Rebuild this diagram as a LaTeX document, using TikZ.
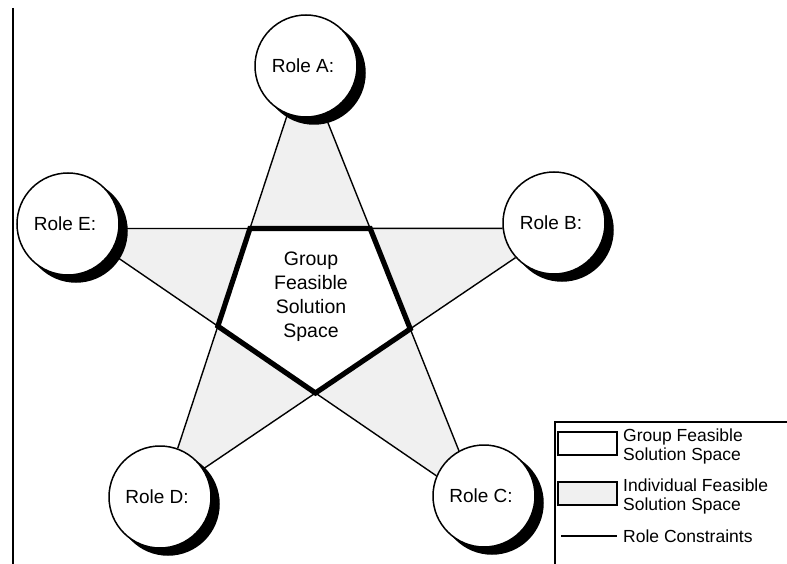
\documentclass[tikz,border=0pt]{standalone}
\usepackage{fontspec}
\setmainfont{Liberation Sans}
\usetikzlibrary{shadows}
\pgfdeclarelayer{background}
\pgfsetlayers{background,main}
\begin{document}
\begin{tikzpicture}[x=1pt,y=-1pt,
  role/.style={circle, draw=black, line width=1.5pt, fill=white,
    minimum size=102pt, inner sep=0pt, font=\fontsize{19}{21}\selectfont,
    general shadow={fill=black, draw=black, shadow xshift=8pt, shadow yshift=-7pt}},
  constraint/.style={line width=1.4pt},
  indiv/.style={fill=black!6},
  groupline/.style={line width=5.2pt, line join=miter},
  legtext/.style={anchor=west, align=left, font=\fontsize{17.5}{19}\selectfont, inner sep=0pt},
  legbox/.style={draw=black, line width=1.1pt},
]
\useasboundingbox (0,0) rectangle (787,564);
% left rule
\draw[line width=1.4pt] (13,8) -- (13,564);

% roles
\node[role] (A) at (306,66) {Role A:\hspace*{6pt}};
\node[role] (B) at (554,223) {Role B:\hspace*{6pt}};
\node[role] (C) at (484,496) {Role C:\hspace*{6pt}};
\node[role] (D) at (160,497) {Role D:\hspace*{6pt}};
\node[role] (E) at (68,224) {Role E:\hspace*{6pt}};

% line end points on the circles
\coordinate (ad1) at (A.-111);
\coordinate (ad2) at (D.70);
\coordinate (ac1) at (A.-69);
\coordinate (ac2) at (C.119.5);
\coordinate (eb1) at (E.-5.6);
\coordinate (eb2) at (B.186.8);
\coordinate (ec1) at (E.-34);
\coordinate (ec2) at (C.157.6);
\coordinate (bd1) at (B.-138);
\coordinate (bd2) at (D.33);

% pentagon vertices
\coordinate (TL) at (intersection of ad1--ad2 and eb1--eb2);
\coordinate (TR) at (intersection of ac1--ac2 and eb1--eb2);
\coordinate (R) at (intersection of ac1--ac2 and bd1--bd2);
\coordinate (Bt) at (intersection of ec1--ec2 and bd1--bd2);
\coordinate (L) at (intersection of ad1--ad2 and ec1--ec2);

\begin{pgfonlayer}{background}
  \fill[indiv] (ad1) -- (TL) -- (TR) -- (ac1) -- cycle;
  \fill[indiv] (TR) -- (eb2) -- (bd1) -- (R) -- cycle;
  \fill[indiv] (R) -- (ac2) -- (ec2) -- (Bt) -- cycle;
  \fill[indiv] (Bt) -- (bd2) -- (ad2) -- (L) -- cycle;
  \fill[indiv] (L) -- (ec1) -- (eb1) -- (TL) -- cycle;
  \draw[constraint] (ad1) -- (ad2);
  \draw[constraint] (ac1) -- (ac2);
  \draw[constraint] (eb1) -- (eb2);
  \draw[constraint] (ec1) -- (ec2);
  \draw[constraint] (bd1) -- (bd2);
\end{pgfonlayer}

% group feasible space
\draw[groupline] (TL) -- (TR) -- (R) -- (Bt) -- (L) -- cycle;
\node[font=\fontsize{19.5}{24}\selectfont, align=center] (gfs) at (311,297)
  {Group\\Feasible\\Solution\\Space};

% legend
\draw[line width=1.4pt] (555,564) -- (555,422) -- (787,422);
\draw[legbox, fill=white] (558,432) rectangle (617,455);
\node[legtext] (lg1) at (623,446) {Group Feasible\\Solution Space};
\draw[legbox, indiv] (558,482) rectangle (617,505);
\node[legtext] (lg2) at (623,496) {Individual Feasible\\Solution Space};
\coordinate (rc1) at (561,536);
\coordinate (rc2) at (617,536);
\draw[constraint] (rc1) -- (rc2);
\node[legtext] (lg3) at (623,536) {Role Constraints};
\end{tikzpicture}
\end{document}
